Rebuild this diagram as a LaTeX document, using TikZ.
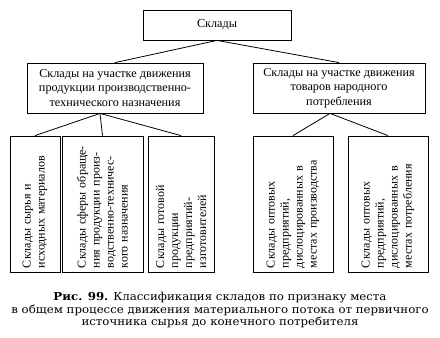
\documentclass[tikz,border=0pt]{standalone}
\usepackage{fontspec}
\setmainfont{Liberation Serif}
\newfontfamily\capfont[FakeStretch=1.07]{DejaVu Serif}
\usetikzlibrary{positioning, calc}

\begin{document}
\begin{tikzpicture}[x=1pt,y=-1pt,
  box/.style={draw, line width=0.8pt, inner sep=2pt, align=center,
    font=\fontsize{12.2}{14.5}\selectfont},
  lowbox/.style={draw, line width=0.8pt, minimum height=136pt},
  vtext/.style={rotate=90, align=left, text width=128pt, inner sep=0pt,
    font=\fontsize{12}{14}\selectfont},
  link/.style={line width=0.8pt}]
  \useasboundingbox (0,0) rectangle (440,338);

  % Top box
  \node[box, minimum width=148pt, minimum height=30pt] (sklady) at (217,25) {Склады};

  % Second level
  \node[box, minimum width=176pt, minimum height=50pt] (prod) at (115,88)
    {Склады на участке движения\\продукции производственно-\\технического назначения};
  \node[box, minimum width=172pt, minimum height=50pt] (tovar) at (339,88)
    {Склады на участке движения\\товаров народного\\потребления};

  % Third level boxes
  \node[lowbox, minimum width=50pt] (syr) at (35,204) {};
  \node[lowbox, minimum width=81pt] (sfer) at (102.5,204) {};
  \node[lowbox, minimum width=66pt] (got) at (181,204) {};
  \node[lowbox, minimum width=80pt] (optpr) at (293,204) {};
  \node[lowbox, minimum width=80pt] (optpo) at (388,204) {};

  % Vertical texts
  \node[vtext] (syrt) at (syr.center) {Склады сырья и\\исходных материалов};
  \node[vtext] (sfert) at (sfer.center) {Склады сферы обраще-\\ния продукции произ-\\водственно-техничес-\\кого назначения};
  \node[vtext] (gott) at (got.center) {Склады готовой\\продукции\\предприятий-\\изготовителей};
  \node[vtext] (optprt) at (optpr.center) {Склады оптовых\\предприятий,\\дислоцированных в\\местах производства};
  \node[vtext] (optpot) at (optpo.center) {Склады оптовых\\предприятий,\\дислоцированных в\\местах потребления};

  % Connectors
  \draw[link] (sklady.south) -- (prod.north);
  \draw[link] (sklady.south) -- (tovar.north);
  \coordinate (pj) at ($(prod.south)+(-15,0)$);
  \coordinate (tj) at ($(tovar.south)+(-9,0)$);
  \draw[link] (pj) -- (syr.north);
  \draw[link] (pj) -- (sfer.north);
  \draw[link] (pj) -- (got.north);
  \draw[link] (tj) -- (optpr.north);
  \draw[link] (tj) -- (optpo.north);

  % Caption
  \node[align=center, font=\capfont\fontsize{11}{12.8}\selectfont] (cap) at (220,310)
    {\textbf{Рис. 99.} Классификация складов по признаку места\\
     в общем процессе движения материального потока от первичного\\
     источника сырья до конечного потребителя};
\end{tikzpicture}
\end{document}
